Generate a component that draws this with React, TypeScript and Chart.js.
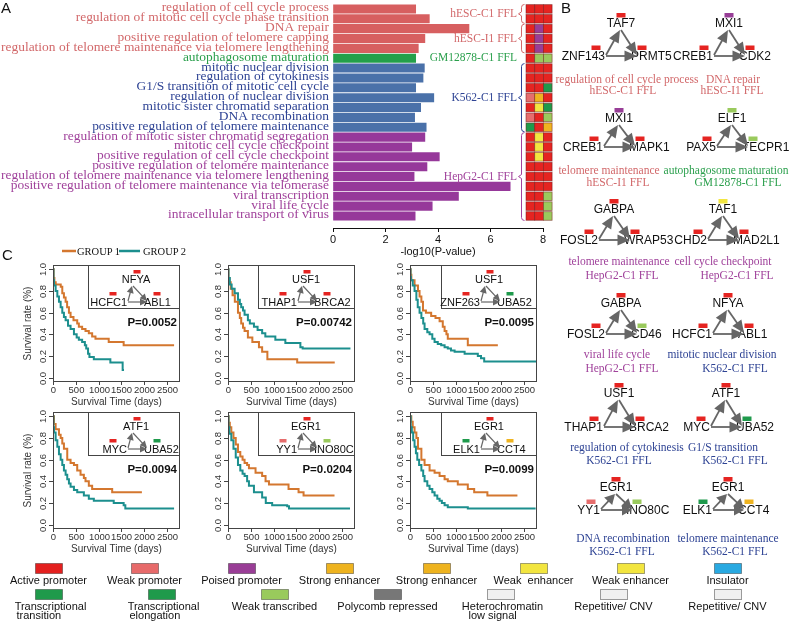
import React, { useEffect, useRef } from "react";
import { Chart, registerables } from "chart.js";

Chart.register(...registerables);

const SERIF = "'Liberation Serif', 'Times New Roman', serif";
const SANS = "'Liberation Sans', Arial, Helvetica, sans-serif";

// ---------------- Panel A data ----------------
const goTerms = [
  "regulation of cell cycle process",
  "regulation of mitotic cell cycle phase transition",
  "DNA repair",
  "positive regulation of telomere capping",
  "regulation of telomere maintenance via telomere lengthening",
  "autophagosome maturation",
  "mitotic nuclear division",
  "regulation of cytokinesis",
  "G1/S transition of mitotic cell cycle",
  "regulation of nuclear division",
  "mitotic sister chromatid separation",
  "DNA recombination",
  "positive regulation of telomere maintenance",
  "regulation of mitotic sister chromatid segregation",
  "mitotic cell cycle checkpoint",
  "positive regulation of cell cycle checkpoint",
  "positive regulation of telomere maintenance",
  "regulation of telomere maintenance via telomere lengthening",
  "positive regulation of telomere maintenance via telomerase",
  "viral transcription",
  "viral life cycle",
  "intracellular transport of virus",
];
const goLogP = [3.15, 3.67, 5.18, 3.5, 3.25, 3.15, 3.48, 3.43, 3.15, 3.84, 3.34, 3.11, 3.55, 3.5, 3.0, 4.05, 3.58, 3.09, 6.75, 4.78, 3.78, 3.13];
const termCellLine = [0, 0, 1, 1, 1, 2, 3, 3, 3, 3, 3, 3, 3, 4, 4, 4, 4, 4, 4, 4, 4, 4];
const cellLineNames = ["hESC-C1 FFL", "hESC-I1 FFL", "GM12878-C1 FFL", "K562-C1 FFL", "HepG2-C1 FFL"];
const termStates = ["AAA", "AAA", "APA", "APA", "APA", "ALL", "AAA", "AAA", "AAT", "WSA", "AET", "WAL", "TAS", "AEA", "AEA", "AEA", "AAA", "AAA", "AAA", "AAL", "AAL", "AAL"];
const xTicksA = [0, 2, 4, 6, 8];

const cellLineText = ["#d2686a", "#d2686a", "#2a9f4c", "#2e4394", "#a0429b"];
const cellLineBar = ["#d75f60", "#d75f60", "#24a04a", "#4a71a9", "#96389a"];
const stateColor: Record<string, string> = {
  A: "#e52421",
  W: "#e66d6d",
  P: "#983e97",
  S: "#efb420",
  E: "#f2e641",
  T: "#1f9a4c",
  L: "#9aca5d",
};

// ---------------- Panel B data ----------------
const netTop = ["TAF7", "MXI1", "MXI1", "ELF1", "GABPA", "TAF1", "GABPA", "NFYA", "USF1", "ATF1", "EGR1", "EGR1"];
const netLeft = ["ZNF143", "CREB1", "CREB1", "PAX5", "FOSL2", "CHD2", "FOSL2", "HCFC1", "THAP1", "MYC", "YY1", "ELK1"];
const netRight = ["PRMT5", "CDK2", "MAPK1", "TECPR1", "WRAP53", "MAD2L1", "CD46", "ABL1", "BRCA2", "UBA52", "INO80C", "CCT4"];
const netStates = ["AAA", "PAA", "PAA", "LAL", "AAA", "EAA", "AAL", "AAA", "AAA", "AAT", "AWL", "ATS"];
const netFunction = [
  "regulation of cell cycle process",
  "DNA repair",
  "telomere maintenance",
  "autophagosome maturation",
  "telomere maintenance",
  "cell cycle checkpoint",
  "viral life cycle",
  "mitotic nuclear division",
  "regulation of cytokinesis",
  "G1/S transition",
  "DNA recombination",
  "telomere maintenance",
];
const netCellLine = [0, 1, 1, 2, 4, 4, 4, 3, 3, 3, 3, 3];

// layout of panel B diagrams (positions only)
const netLayout = [
  { lx: 606, by: 56, h: 33, c1: [627, 79], c2: [623, 90] },
  { lx: 714, by: 56, h: 33, c1: [733, 79], c2: [732, 90] },
  { lx: 604, by: 147, h: 29, c1: [609, 170], c2: [618, 182] },
  { lx: 717, by: 147, h: 29, c1: [726, 170], c2: [738, 182] },
  { lx: 599, by: 240, h: 31, c1: [619, 261], c2: [622, 275] },
  { lx: 708, by: 240, h: 31, c1: [723, 261], c2: [737, 275] },
  { lx: 606, by: 334, h: 31, c1: [617, 354], c2: [622, 368] },
  { lx: 713, by: 334, h: 31, c1: [722, 354], c2: [735, 368] },
  { lx: 604, by: 427, h: 34, c1: [627, 447], c2: [619, 460] },
  { lx: 711, by: 427, h: 34, c1: [723, 447], c2: [735, 460] },
  { lx: 601, by: 510, h: 23, c1: [623, 538], c2: [622, 551] },
  { lx: 713, by: 510, h: 23, c1: [728, 538], c2: [735, 551] },
];

// ---------------- Panel C data ----------------
const km1G1Days = [0, 15, 30, 60, 170, 204, 240, 277, 310, 350, 386, 450, 532, 568, 640, 714, 787, 860, 933, 1224, 1552, 2660];
const km1G1Surv = [1, 0.92, 0.88, 0.86, 0.84, 0.78, 0.74, 0.7, 0.65, 0.6, 0.56, 0.53, 0.5, 0.47, 0.45, 0.43, 0.41, 0.38, 0.36, 0.33, 0.3, 0.3];
const km1G2Days = [0, 10, 22, 58, 95, 131, 168, 204, 240, 277, 330, 386, 460, 520, 568, 640, 700, 730, 770, 800, 897, 1260, 1530, 1560];
const km1G2Surv = [1, 0.9, 0.85, 0.8, 0.75, 0.7, 0.65, 0.6, 0.56, 0.53, 0.48, 0.45, 0.4, 0.37, 0.35, 0.33, 0.3, 0.27, 0.22, 0.19, 0.17, 0.14, 0.07, 0.07];

const km2G1Days = [0, 10, 30, 60, 100, 150, 219, 260, 290, 330, 364, 437, 535, 680, 750, 865, 1520, 2345];
const km2G1Surv = [1, 0.92, 0.88, 0.82, 0.76, 0.7, 0.6, 0.55, 0.5, 0.46, 0.43, 0.37, 0.33, 0.28, 0.24, 0.17, 0.14, 0.14];
const km2G2Days = [0, 10, 40, 80, 146, 219, 260, 290, 330, 364, 437, 480, 570, 650, 750, 820, 1040, 1260, 1590, 1640, 2690];
const km2G2Surv = [1, 0.92, 0.86, 0.82, 0.78, 0.72, 0.68, 0.65, 0.62, 0.58, 0.53, 0.5, 0.47, 0.44, 0.41, 0.38, 0.35, 0.32, 0.28, 0.27, 0.27];

const km3G1Days = [0, 15, 30, 100, 175, 210, 250, 285, 350, 465, 560, 650, 720, 760, 800, 830, 1270, 1930];
const km3G1Surv = [1, 0.95, 0.9, 0.85, 0.8, 0.75, 0.7, 0.62, 0.6, 0.57, 0.55, 0.52, 0.47, 0.43, 0.4, 0.36, 0.3, 0.3];
const km3G2Days = [0, 10, 20, 60, 100, 140, 170, 210, 250, 290, 320, 380, 430, 490, 540, 610, 685, 760, 830, 900, 980, 1200, 1490, 1560, 1630, 2780];
const km3G2Surv = [1, 0.93, 0.9, 0.85, 0.8, 0.72, 0.65, 0.6, 0.55, 0.5, 0.45, 0.42, 0.4, 0.36, 0.33, 0.31, 0.3, 0.28, 0.27, 0.25, 0.24, 0.22, 0.2, 0.18, 0.15, 0.15];

const km4G1Days = [0, 22, 58, 131, 168, 204, 240, 313, 386, 460, 532, 605, 678, 714, 787, 860, 1300, 1953];
const km4G1Surv = [1, 0.93, 0.88, 0.83, 0.8, 0.75, 0.7, 0.6, 0.57, 0.55, 0.5, 0.46, 0.43, 0.4, 0.36, 0.33, 0.3, 0.3];
const km4G2Days = [0, 10, 22, 58, 95, 131, 168, 204, 240, 277, 313, 350, 386, 460, 532, 678, 787, 897, 1334, 1552, 1589, 2660];
const km4G2Surv = [1, 0.9, 0.85, 0.78, 0.72, 0.65, 0.6, 0.55, 0.5, 0.46, 0.42, 0.38, 0.35, 0.32, 0.3, 0.27, 0.24, 0.22, 0.2, 0.18, 0.15, 0.15];

const km5G1Days = [0, 15, 40, 73, 120, 170, 219, 270, 320, 364, 420, 460, 605, 750, 825, 900, 1330, 1550, 1660, 2340];
const km5G1Surv = [1, 0.94, 0.9, 0.85, 0.8, 0.74, 0.67, 0.63, 0.6, 0.57, 0.55, 0.52, 0.48, 0.45, 0.4, 0.37, 0.33, 0.3, 0.27, 0.27];
const km5G2Days = [0, 10, 30, 73, 120, 170, 219, 270, 320, 364, 420, 460, 570, 750, 830, 970, 1300, 1340, 2680];
const km5G2Surv = [1, 0.9, 0.84, 0.78, 0.7, 0.62, 0.55, 0.5, 0.47, 0.45, 0.4, 0.36, 0.3, 0.25, 0.2, 0.18, 0.17, 0.15, 0.15];

const km6G1Days = [0, 29, 60, 100, 140, 175, 250, 320, 430, 540, 650, 760, 830, 1050, 1270, 1410, 1700, 2360];
const km6G1Surv = [1, 0.95, 0.9, 0.85, 0.8, 0.7, 0.6, 0.55, 0.5, 0.48, 0.45, 0.42, 0.4, 0.37, 0.33, 0.3, 0.27, 0.27];
const km6G2Days = [0, 15, 40, 70, 100, 130, 160, 200, 250, 290, 320, 380, 430, 490, 540, 600, 650, 700, 760, 830, 1270, 2760];
const km6G2Surv = [1, 0.9, 0.85, 0.78, 0.72, 0.66, 0.6, 0.55, 0.5, 0.45, 0.4, 0.36, 0.33, 0.3, 0.27, 0.24, 0.22, 0.2, 0.18, 0.16, 0.15, 0.15];

const kmTop = ["NFYA", "USF1", "USF1", "ATF1", "EGR1", "EGR1"];
const kmLeft = ["HCFC1", "THAP1", "ZNF263", "MYC", "YY1", "ELK1"];
const kmRight = ["ABL1", "BRCA2", "UBA52", "UBA52", "INO80C", "CCT4"];
const kmStates = ["AAA", "AAA", "AAT", "AAT", "AWL", "ATS"];
const kmPValues = ["P=0.0052", "P=0.00742", "P=0.0095", "P=0.0094", "P=0.0204", "P=0.0099"];
const kmYTicks = [0, 0.2, 0.4, 0.6, 0.8, 1.0];
const kmXTicks = [0, 500, 1000, 1500, 2000, 2500];
const groupNames = ["GROUP 1", "GROUP 2"];

const kmCurves = [
  [km1G1Days, km1G1Surv, km1G2Days, km1G2Surv],
  [km2G1Days, km2G1Surv, km2G2Days, km2G2Surv],
  [km3G1Days, km3G1Surv, km3G2Days, km3G2Surv],
  [km4G1Days, km4G1Surv, km4G2Days, km4G2Surv],
  [km5G1Days, km5G1Surv, km5G2Days, km5G2Surv],
  [km6G1Days, km6G1Surv, km6G2Days, km6G2Surv],
];

const ORANGE = "#d4772f";
const TEAL = "#1c8f8e";

// layout of panel C
const kmFrameLeft = [53, 228, 410];
const kmFrameTop = [265, 412];
const kmInsetOffset = [35, 30, 31];
const KM_W = 127;
const KM_H = 117;

// ---------------- Legend data ----------------
const legendRow1Labels = ["Active promoter", "Weak promoter", "Poised promoter", "Strong enhancer", "Strong enhancer", "Weak  enhancer", "Weak enhancer", "Insulator"];
const legendRow1Colors = ["#e3201f", "#e76a6a", "#993d96", "#eeb31f", "#eeb31f", "#f2e53f", "#f2e53f", "#29a9e1"];
const legendRow2Labels = ["Transcriptional\ntransition", "Transcriptional\nelongation", "Weak transcribed", "Polycomb repressed", "Heterochromatin\nlow signal", "Repetitive/ CNV", "Repetitive/ CNV"];
const legendRow2Colors = ["#1f9a4b", "#1f9a4b", "#99ca5c", "#777777", "#f0f0f0", "#f0f0f0", "#f0f0f0"];
const legendRow1X = [35, 131, 228, 326, 423, 520, 617, 714];
const legendRow2X = [35, 148, 261, 374, 487, 600, 714];

// ---------------- Panel A chart ----------------
function GoBars() {
  const ref = useRef<HTMLCanvasElement>(null);
  useEffect(() => {
    const canvas = ref.current!;
    const labelPlugin = {
      id: "goLabels",
      afterDraw(chart: any) {
        const ctx = chart.ctx;
        const y = chart.scales.y;
        ctx.save();
        ctx.textBaseline = "middle";
        ctx.font = `11.5px ${SERIF}`;
        goTerms.forEach((t, i) => {
          const py = y.getPixelForValue(i);
          ctx.save();
          ctx.translate(329, py - 0.5);
          ctx.scale(1.17, 1);
          ctx.textAlign = "right";
          ctx.fillStyle = cellLineText[termCellLine[i]];
          ctx.fillText(t, 0, 0);
          ctx.restore();
        });
        // group labels and braces
        cellLineNames.forEach((name, g) => {
          const idx = termCellLine.map((c, i) => (c === g ? i : -1)).filter((i) => i >= 0);
          const first = idx[0];
          const last = idx[idx.length - 1];
          const y0 = y.getPixelForValue(first) - 4.5;
          const y1 = y.getPixelForValue(last) + 4.5;
          const ym = (y0 + y1) / 2;
          ctx.fillStyle = cellLineText[g];
          ctx.strokeStyle = cellLineText[g];
          ctx.font = `11.5px ${SERIF}`;
          ctx.textAlign = "right";
          ctx.fillText(name, 517, ym);
          if (last > first) {
            ctx.lineWidth = 1;
            ctx.beginPath();
            ctx.moveTo(524.5, y0);
            ctx.quadraticCurveTo(521.5, y0, 521.5, y0 + 3);
            ctx.lineTo(521.5, ym - 2);
            ctx.lineTo(518.5, ym);
            ctx.lineTo(521.5, ym + 2);
            ctx.lineTo(521.5, y1 - 3);
            ctx.quadraticCurveTo(521.5, y1, 524.5, y1);
            ctx.stroke();
          }
        });
        // chromatin state cells
        termStates.forEach((s, i) => {
          const py = y.getPixelForValue(i);
          for (let j = 0; j < 3; j++) {
            const x0 = 526 + j * 8.7;
            ctx.fillStyle = stateColor[s[j]];
            ctx.fillRect(x0, py - 4.3, 8.7, 8.6);
            ctx.strokeStyle = "rgba(110,20,20,0.6)";
            ctx.lineWidth = 0.8;
            ctx.strokeRect(x0, py - 4.3, 8.7, 8.6);
          }
        });
        ctx.restore();
      },
    };
    const chart = new Chart(canvas, {
      type: "bar",
      data: {
        datasets: [
          {
            data: goLogP.map((v, i) => ({ x: v, y: i })),
            backgroundColor: goLogP.map((_, i) => cellLineBar[termCellLine[i]]),
            borderWidth: 0,
            barThickness: 8.4,
          } as any,
        ],
      },
      options: {
        indexAxis: "y",
        animation: false,
        responsive: false,
        maintainAspectRatio: false,
        events: [],
        layout: { padding: { left: 333, right: 17, top: 4, bottom: 0 } },
        plugins: { legend: { display: false }, tooltip: { enabled: false } },
        scales: {
          y: {
            type: "linear",
            display: false,
            reverse: true,
            offset: false,
            bounds: "data",
            min: -0.5,
            max: 22.22,
            afterBuildTicks: (s: any) => {
              s.min = -0.5;
              s.max = 22.22;
              s.ticks = [{ value: -0.5 }, { value: 22.22 }];
            },
            grid: { offset: false },
          },
          x: {
            type: "linear",
            min: 0,
            max: 8,
            position: "bottom",
            afterBuildTicks: (s: any) => {
              s.ticks = xTicksA.map((v) => ({ value: v }));
            },
            ticks: { color: "#111", font: { family: SANS, size: 11 }, padding: 1 },
            grid: { drawOnChartArea: false, drawTicks: true, tickLength: 4, color: "#111" },
            border: { display: true, color: "#111", width: 1 },
            title: {
              display: true,
              text: "-log10(P-value)",
              color: "#111",
              font: { family: SANS, size: 11 },
              padding: { top: 0, bottom: 3 },
            },
            afterFit: (s: any) => {
              s.height = 34;
            },
          } as any,
        },
      } as any,
      plugins: [labelPlugin],
    });
    return () => chart.destroy();
  }, []);
  return (
    <canvas
      ref={ref}
      width={560}
      height={262}
      style={{ position: "absolute", left: 0, top: 0, width: 560, height: 262 }}
    />
  );
}

// ---------------- Panel C charts ----------------
function KmPlot({ k }: { k: number }) {
  const ref = useRef<HTMLCanvasElement>(null);
  const col = k % 3;
  const row = Math.floor(k / 3);
  const PL = 48, PT = 6, PR = 6, PB = 30;
  const left = kmFrameLeft[col] - PL;
  const top = kmFrameTop[row] - PT;
  const W = PL + KM_W + PR;
  const H = PT + KM_H + PB;
  useEffect(() => {
    const canvas = ref.current!;
    const [g1t, g1s, g2t, g2s] = kmCurves[k];
    const axes = {
      id: "kmAxes",
      afterDraw(chart: any) {
        const { ctx, chartArea: ca } = chart;
        const x = chart.scales.x;
        const y = chart.scales.y;
        ctx.save();
        ctx.strokeStyle = "#444";
        ctx.lineWidth = 1;
        ctx.strokeRect(Math.round(ca.left) + 0.5, Math.round(ca.top) + 0.5, Math.round(ca.right - ca.left) - 1, Math.round(ca.bottom - ca.top) - 1);
        ctx.fillStyle = "#333";
        ctx.font = `9.5px ${SANS}`;
        kmYTicks.forEach((v) => {
          const py = Math.round(y.getPixelForValue(v)) + 0.5;
          ctx.beginPath();
          ctx.moveTo(ca.left, py);
          ctx.lineTo(ca.left - 4, py);
          ctx.stroke();
          ctx.save();
          ctx.translate(ca.left - 10, py);
          ctx.rotate(-Math.PI / 2);
          ctx.textAlign = "center";
          ctx.textBaseline = "middle";
          ctx.fillText(v.toFixed(1), 0, 0);
          ctx.restore();
        });
        ctx.textAlign = "center";
        ctx.textBaseline = "middle";
        kmXTicks.forEach((v) => {
          const px = Math.round(x.getPixelForValue(v)) + 0.5;
          ctx.beginPath();
          ctx.moveTo(px, ca.bottom);
          ctx.lineTo(px, ca.bottom + 3);
          ctx.stroke();
          ctx.fillText(String(v), px, ca.bottom + 8);
        });
        ctx.font = `10px ${SANS}`;
        ctx.fillText("Survival Time (days)", (ca.left + ca.right) / 2, ca.bottom + 20);
        if (col === 0) {
          ctx.save();
          ctx.translate(ca.left - 25, (ca.top + ca.bottom) / 2);
          ctx.rotate(-Math.PI / 2);
          ctx.fillText("Survival rate (%)", 0, 0);
          ctx.restore();
        }
        ctx.fillStyle = "#111";
        ctx.font = `bold 11.5px ${SANS}`;
        ctx.textAlign = "right";
        ctx.fillText(kmPValues[k], ca.right - 3, ca.top + 58);
        ctx.restore();
      },
    };
    const chart = new Chart(canvas, {
      type: "line",
      data: {
        datasets: [
          {
            label: groupNames[1],
            data: g2t.map((t, i) => ({ x: t, y: g2s[i] })),
            borderColor: TEAL,
            borderWidth: 2,
            stepped: true,
            pointRadius: 0,
            fill: false,
          } as any,
          {
            label: groupNames[0],
            data: g1t.map((t, i) => ({ x: t, y: g1s[i] })),
            borderColor: ORANGE,
            borderWidth: 2,
            stepped: true,
            pointRadius: 0,
            fill: false,
          } as any,
        ],
      },
      options: {
        animation: false,
        responsive: false,
        maintainAspectRatio: false,
        events: [],
        layout: { padding: { left: PL, top: PT, right: PR, bottom: PB } },
        plugins: { legend: { display: false }, tooltip: { enabled: false } },
        scales: {
          x: { type: "linear", display: false, min: 0, max: 2790 },
          y: { type: "linear", display: false, min: -0.04, max: 1.04 },
        },
      } as any,
      plugins: [axes],
    });
    return () => chart.destroy();
  }, [k]);
  return (
    <canvas
      ref={ref}
      width={W}
      height={H}
      style={{ position: "absolute", left, top, width: W, height: H }}
    />
  );
}

// ---------------- SVG helpers ----------------
function Arrow({ x1, y1, x2, y2, hl, hw, sw, color = "#666666" }: any) {
  const dx = x2 - x1;
  const dy = y2 - y1;
  const len = Math.hypot(dx, dy);
  const ux = dx / len;
  const uy = dy / len;
  const bx = x2 - ux * hl;
  const by = y2 - uy * hl;
  const px = -uy * hw;
  const py = ux * hw;
  return (
    <g>
      <line x1={x1} y1={y1} x2={bx + ux * 1} y2={by + uy * 1} stroke={color} strokeWidth={sw} />
      <polygon points={`${x2},${y2} ${bx + px},${by + py} ${bx - px},${by - py}`} fill={color} />
    </g>
  );
}

function NetB({ i }: { i: number }) {
  const { lx, by, h, c1, c2 } = netLayout[i];
  const st = netStates[i];
  const T = { x: lx + 14, y: by - h + 7 };
  const R = { x: lx + 31, y: by };
  const col = cellLineText[netCellLine[i]];
  const tStyle = { fontFamily: SANS, fontSize: 12, fill: "#111" } as any;
  const hl = h < 28 ? 10 : 12.5;
  return (
    <g>
      <text x={lx + 15} y={by - h} textAnchor="middle" dominantBaseline="central" style={tStyle}>{netTop[i]}</text>
      <text x={lx - 1} y={by} textAnchor="end" dominantBaseline="central" style={tStyle}>{netLeft[i]}</text>
      <text x={lx + 25} y={by} textAnchor="start" dominantBaseline="central" style={tStyle}>{netRight[i]}</text>
      <rect x={lx + 15 - 4.5} y={by - h - 10} width={9} height={4.5} fill={stateColor[st[0]]} />
      <rect x={lx - 10 - 4.5} y={by - 10.5} width={9} height={4.5} fill={stateColor[st[1]]} />
      <rect x={lx + 36 - 4.5} y={by - 10.5} width={9} height={4.5} fill={stateColor[st[2]]} />
      <Arrow x1={lx} y1={by - 1} x2={T.x} y2={T.y} hl={hl} hw={5.5} sw={1.8} />
      <Arrow x1={T.x + 1} y1={T.y} x2={R.x} y2={R.y - 1} hl={hl} hw={5.5} sw={1.8} />
      <Arrow x1={lx} y1={by} x2={R.x} y2={R.y} hl={hl} hw={5.5} sw={1.8} />
      <text x={c1[0]} y={c1[1]} textAnchor="middle" dominantBaseline="central" style={{ fontFamily: SERIF, fontSize: 11.5, fill: col }}>{netFunction[i]}</text>
      <text x={c2[0]} y={c2[1]} textAnchor="middle" dominantBaseline="central" style={{ fontFamily: SERIF, fontSize: 11.5, fill: col }}>{cellLineNames[netCellLine[i]]}</text>
    </g>
  );
}

function NetInset({ k }: { k: number }) {
  const col = k % 3;
  const row = Math.floor(k / 3);
  const fl = kmFrameLeft[col];
  const top = kmFrameTop[row];
  const ix = fl + kmInsetOffset[col];
  const right = fl + KM_W;
  const st = kmStates[k];
  const L = { x: ix + 40, y: top + 37 };
  const T = { x: ix + 44, y: top + 21 };
  const R = { x: ix + 59, y: top + 37 };
  const tStyle = { fontFamily: SANS, fontSize: 11, fill: "#111" } as any;
  return (
    <g>
      <rect x={ix + 0.5} y={top + 0.5} width={right - ix - 1} height={43} fill="none" stroke="#444" strokeWidth={1} />
      <text x={ix + 48} y={top + 14} textAnchor="middle" dominantBaseline="central" style={tStyle}>{kmTop[k]}</text>
      <text x={ix + 39} y={top + 37} textAnchor="end" dominantBaseline="central" style={tStyle}>{kmLeft[k]}</text>
      <text x={ix + 56} y={top + 37} textAnchor="start" dominantBaseline="central" style={tStyle}>{kmRight[k]}</text>
      <rect x={ix + 49 - 3.5} y={top + 5} width={7} height={3.5} fill={stateColor[st[0]]} />
      <rect x={ix + 25 - 3.5} y={top + 27} width={7} height={3.5} fill={stateColor[st[1]]} />
      <rect x={ix + 69 - 3.5} y={top + 27} width={7} height={3.5} fill={stateColor[st[2]]} />
      <Arrow x1={L.x} y1={L.y - 1} x2={T.x} y2={T.y} hl={7} hw={3.5} sw={1.2} />
      <Arrow x1={T.x + 1} y1={T.y} x2={R.x} y2={R.y - 1} hl={7} hw={3.5} sw={1.2} />
      <Arrow x1={L.x} y1={L.y} x2={R.x} y2={R.y} hl={7} hw={3.5} sw={1.2} />
    </g>
  );
}

function Legend() {
  const lStyle = { fontFamily: SANS, fontSize: 11, fill: "#111", whiteSpace: "pre" } as any;
  const border = (c: string) => (c === "#f0f0f0" ? "#9a9a9a" : "rgba(0,0,0,0.35)");
  return (
    <g>
      {legendRow1Labels.map((lab, i) => (
        <g key={"r1" + i}>
          <rect x={legendRow1X[i] + 0.5} y={563.5} width={27} height={10} fill={legendRow1Colors[i]} stroke={border(legendRow1Colors[i])} strokeWidth={1} />
          <text x={legendRow1X[i] + 13.5} y={580} textAnchor="middle" dominantBaseline="central" style={lStyle}>{lab}</text>
        </g>
      ))}
      {legendRow2Labels.map((lab, i) => {
        const lines = lab.split("\n");
        const cx = legendRow2X[i] + 13.5;
        return (
          <g key={"r2" + i}>
            <rect x={legendRow2X[i] + 0.5} y={589.5} width={27} height={10} fill={legendRow2Colors[i]} stroke={border(legendRow2Colors[i])} strokeWidth={1} />
            {lines.length === 1 ? (
              <text x={cx} y={606} textAnchor="middle" dominantBaseline="central" style={lStyle}>{lab}</text>
            ) : (
              <g>
                <text x={cx + 2} y={606} textAnchor="middle" dominantBaseline="central" style={lStyle}>{lines[0]}</text>
                <text x={cx + 2 - 34} y={614.5} textAnchor="start" dominantBaseline="central" style={lStyle}>{lines[1]}</text>
              </g>
            )}
          </g>
        );
      })}
    </g>
  );
}

export default function App() {
  const kIdx = [0, 1, 2, 3, 4, 5];
  return (
    <div style={{ position: "absolute", left: 0, top: 0, width: 789, height: 621, background: "#fff", overflow: "hidden" }}>
      <GoBars />
      {kIdx.map((k) => (
        <KmPlot key={k} k={k} />
      ))}
      <svg width={789} height={621} style={{ position: "absolute", left: 0, top: 0, pointerEvents: "none" }}>
        <text x={1} y={13} style={{ fontFamily: SANS, fontSize: 15, fill: "#111" }}>A</text>
        <text x={561} y={13} style={{ fontFamily: SANS, fontSize: 15, fill: "#111" }}>B</text>
        <text x={2} y={260} style={{ fontFamily: SANS, fontSize: 15, fill: "#111" }}>C</text>
        {netLayout.map((_, i) => (
          <NetB key={i} i={i} />
        ))}
        {kIdx.map((k) => (
          <NetInset key={k} k={k} />
        ))}
        <line x1={62} y1={251} x2={76} y2={251} stroke={ORANGE} strokeWidth={2.5} />
        <text x={77} y={251} dominantBaseline="central" style={{ fontFamily: SERIF, fontSize: 10.5, fill: "#111" }}>{groupNames[0]}</text>
        <line x1={119} y1={251} x2={140} y2={251} stroke={TEAL} strokeWidth={2.5} />
        <text x={143} y={251} dominantBaseline="central" style={{ fontFamily: SERIF, fontSize: 10.5, fill: "#111" }}>{groupNames[1]}</text>
        <Legend />
      </svg>
    </div>
  );
}
